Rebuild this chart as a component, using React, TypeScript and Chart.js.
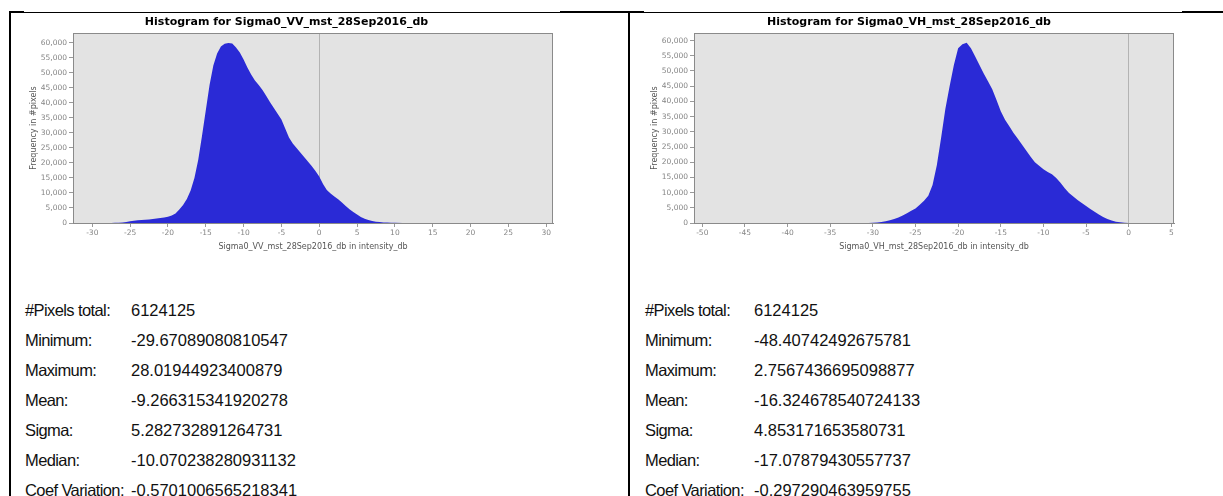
import React, { useEffect, useRef } from 'react';
import { Chart, registerables } from 'chart.js';

Chart.register(...registerables);

// ---------- data ----------
const vvTitle = 'Histogram for Sigma0_VV_mst_28Sep2016_db';
const vvAxisTitle = 'Sigma0_VV_mst_28Sep2016_db in intensity_db';
const vvBins = [
  -29.67, -28, -27.5, -27, -26.5, -26, -25.5, -25, -24.5, -24, -23.5, -23, -22.5, -22, -21.5, -21,
  -20.5, -20, -19.5, -19, -18.5, -18, -17.5, -17, -16.5, -16, -15.5, -15, -14.5, -14, -13.5, -13,
  -12.5, -12, -11.5, -11, -10.5, -10, -9.5, -9, -8.5, -8, -7.5, -7, -6.5, -6, -5.5, -5,
  -4.5, -4, -3.5, -3, -2.5, -2, -1.5, -1, -0.5, 0, 0.5, 1, 1.5, 2, 2.5, 3,
  3.5, 4, 4.5, 5, 5.5, 6, 6.5, 7, 7.5, 8, 8.5, 9, 9.5, 10, 11, 12, 28.02,
];
const vvCounts = [
  0, 0, 20, 50, 100, 200, 350, 550, 750, 900, 1000, 1100, 1200, 1350, 1500, 1650,
  1850, 2100, 2500, 3200, 4500, 6000, 8000, 10800, 15000, 21000, 29000, 37500, 46000, 52500, 56500, 58800,
  59700, 60000, 59800, 58500, 56800, 54500, 51800, 49500, 47500, 46000, 44300, 42300, 40200, 38300, 36400, 34500,
  31500, 28500, 26500, 25000, 23500, 22000, 20500, 19000, 17300, 15500, 13000, 11000, 9800, 8800, 7900, 6800,
  5700, 4600, 3700, 2800, 2000, 1400, 1000, 650, 450, 300, 200, 130, 80, 50, 20, 0, 0,
];
const vvXTicks = [-30, -25, -20, -15, -10, -5, 0, 5, 10, 15, 20, 25, 30];

const vhTitle = 'Histogram for Sigma0_VH_mst_28Sep2016_db';
const vhAxisTitle = 'Sigma0_VH_mst_28Sep2016_db in intensity_db';
const vhBins = [
  -48.41, -31, -30.5, -30, -29.5, -29, -28.5, -28, -27.5, -27, -26.5, -26, -25.5, -25, -24.5, -24,
  -23.5, -23, -22.5, -22, -21.5, -21, -20.5, -20, -19.5, -19, -18.5, -18, -17.5, -17, -16.5, -16,
  -15.5, -15, -14.5, -14, -13.5, -13, -12.5, -12, -11.5, -11, -10.5, -10, -9.5, -9, -8.5, -8,
  -7.5, -7, -6.5, -6, -5.5, -5, -4.5, -4, -3.5, -3, -2.5, -2, -1.5, -1, -0.5, 0, 0.5, 2.76,
];
const vhCounts = [
  0, 0, 30, 80, 150, 300, 550, 900, 1300, 1800, 2500, 3200, 4000, 4800, 6000, 7300,
  9000, 12500, 19000, 28000, 37500, 45000, 52000, 57500, 58800, 59300, 57500, 54800, 52000, 49200, 46600, 44000,
  40500, 36800, 34000, 31800, 29600, 27700, 25700, 23800, 21800, 20000, 18800, 17700, 16800, 16000, 14800, 13200,
  11400, 9900, 8700, 7600, 6600, 5600, 4600, 3700, 2800, 2000, 1300, 800, 450, 220, 80, 20, 0, 0,
];
const vhXTicks = [-50, -45, -40, -35, -30, -25, -20, -15, -10, -5, 0, 5];

const yTicks = [0, 5000, 10000, 15000, 20000, 25000, 30000, 35000, 40000, 45000, 50000, 55000, 60000];

const vvRange = [-32.55, 30.9, 63300];
const vhRange = [-50.97, 5.31, 62500];

const statLabels = ['#Pixels total:', 'Minimum:', 'Maximum:', 'Mean:', 'Sigma:', 'Median:', 'Coef Variation:'];
const vvStats = ['6124125', '-29.67089080810547', '28.01944923400879', '-9.266315341920278', '5.282732891264731', '-10.070238280931132', '-0.5701006565218341'];
const vhStats = ['6124125', '-48.40742492675781', '2.7567436695098877', '-16.324678540724133', '4.853171653580731', '-17.07879430557737', '-0.297290463959755'];

// ---------- styling ----------
const BLUE = '#2a2ad6';
const PLOT_BG = '#e3e3e3';
const TICK_FONT = { family: 'DejaVu Sans', size: 7.5 };

const plotBg = {
  id: 'plotBg',
  beforeDraw(chart: any) {
    const { ctx, chartArea: a } = chart;
    ctx.save();
    ctx.fillStyle = PLOT_BG;
    ctx.fillRect(a.left, a.top, a.right - a.left, a.bottom - a.top);
    ctx.restore();
  },
  afterDraw(chart: any) {
    const { ctx, chartArea: a } = chart;
    ctx.save();
    ctx.strokeStyle = '#8a8a8a';
    ctx.lineWidth = 1;
    ctx.strokeRect(Math.round(a.left) + 0.5, Math.round(a.top) + 0.5, Math.round(a.right - a.left) - 1, Math.round(a.bottom - a.top));
    ctx.restore();
  },
};

function fixedTicks(values: number[]) {
  return (s: any) => {
    s.ticks = values.filter((v) => v >= s.min && v <= s.max).map((v) => ({ value: v }));
  };
}

type Props = {
  title: string;
  axisTitle: string;
  bins: number[];
  counts: number[];
  xTicks: number[];
  range: number[];
  width: number;
  height: number;
  yAxisWidth: number;
  yTitleX: number;
  padRight: number;
};

function Histogram(p: Props) {
  const ref = useRef<HTMLCanvasElement | null>(null);
  useEffect(() => {
    if (!ref.current) return;
    const chart = new Chart(ref.current, {
      type: 'line',
      data: {
        datasets: [
          {
            data: p.bins.map((b, i) => ({ x: b, y: p.counts[i] })),
            borderColor: 'rgba(0,0,0,0)',
            backgroundColor: BLUE,
            borderWidth: 1,
            pointRadius: 0,
            fill: 'origin',
            tension: 0,
          },
        ],
      },
      options: {
        animation: false,
        responsive: false,
        locale: 'en-US',
        layout: { padding: { left: 0, right: p.padRight, top: 0, bottom: 0 } },
        plugins: {
          legend: { display: false },
          tooltip: { enabled: false },
          title: {
            display: true,
            text: p.title,
            color: '#000',
            font: { family: 'DejaVu Sans', size: 11, weight: 'bold', lineHeight: 1.2 },
            padding: { top: 3, bottom: 3.8 },
          },
        },
        scales: {
          x: {
            type: 'linear',
            min: p.range[0],
            max: p.range[1],
            afterBuildTicks: fixedTicks(p.xTicks),
            afterFit: (s: any) => {
              s.height = 35;
            },
            ticks: { autoSkip: false, maxRotation: 0, color: '#858585', font: TICK_FONT, padding: 2 },
            grid: {
              color: (c: any) => (c.tick && c.tick.value === 0 ? '#b3b3b3' : 'rgba(0,0,0,0)'),
              tickColor: '#999',
              tickLength: 4,
            },
            border: { display: true, color: '#8a8a8a' },
            title: {
              display: true,
              text: p.axisTitle,
              color: '#555',
              font: { family: 'DejaVu Sans', size: 8 },
              padding: { top: 0, bottom: 6.6 },
            },
          },
          y: {
            type: 'linear',
            min: 0,
            max: p.range[2],
            afterBuildTicks: fixedTicks(yTicks),
            afterFit: (s: any) => {
              s.width = p.yAxisWidth;
            },
            ticks: { autoSkip: false, color: '#858585', font: TICK_FONT, padding: 2 },
            grid: { display: true, drawOnChartArea: false, tickColor: '#999', tickLength: 4 },
            border: { display: true, color: '#8a8a8a' },
            title: {
              display: true,
              text: 'Frequency in #pixels',
              color: '#555',
              font: { family: 'DejaVu Sans', size: 8 },
              padding: { top: p.yTitleX - 4.8, bottom: 0 },
            },
          },
        },
      } as any,
      plugins: [plotBg],
    });
    return () => chart.destroy();
  }, []);
  return <canvas ref={ref} width={p.width} height={p.height} style={{ width: p.width, height: p.height, display: 'block' }} />;
}

function Stats({ left, valueLeft, values }: { left: number; valueLeft: number; values: string[] }) {
  return (
    <div style={{ position: 'absolute', top: 294.5, left, fontFamily: '"Liberation Sans", Arial, sans-serif', fontSize: 16.5, color: '#111' }}>
      {statLabels.map((l, i) => (
        <div key={l} style={{ height: 30, lineHeight: '30px', position: 'relative', whiteSpace: 'nowrap' }}>
          <span style={{ letterSpacing: '-0.6px' }}>{l}</span>
          <span style={{ position: 'absolute', left: valueLeft - left }}>{values[i]}</span>
        </div>
      ))}
    </div>
  );
}

export default function App() {
  const line = (x: number, y: number, w: number, h: number) => (
    <div style={{ position: 'absolute', left: x, top: y, width: w, height: h, background: '#000' }} />
  );
  return (
    <div style={{ position: 'fixed', left: 0, top: 0, width: 1223, height: 496, background: '#fff', overflow: 'hidden' }}>
      {line(9, 12, 1214, 1)}
      {line(9, 11, 15, 2)}
      {line(560, 11, 84, 2)}
      {line(1182, 11, 41, 2)}
      {line(9, 11, 2, 485)}
      {line(628, 11, 2, 485)}
      <div style={{ position: 'absolute', left: 20, top: 13 }}>
        <Histogram title={vvTitle} axisTitle={vvAxisTitle} bins={vvBins} counts={vvCounts} xTicks={vvXTicks} range={vvRange}
          width={545} height={245} yAxisWidth={53} yTitleX={14} padRight={12} />
      </div>
      <div style={{ position: 'absolute', left: 644, top: 13 }}>
        <Histogram title={vhTitle} axisTitle={vhAxisTitle} bins={vhBins} counts={vhCounts} xTicks={vhXTicks} range={vhRange}
          width={538} height={245} yAxisWidth={50} yTitleX={11} padRight={8} />
      </div>
      <Stats left={25} valueLeft={131} values={vvStats} />
      <Stats left={645} valueLeft={754} values={vhStats} />
    </div>
  );
}
